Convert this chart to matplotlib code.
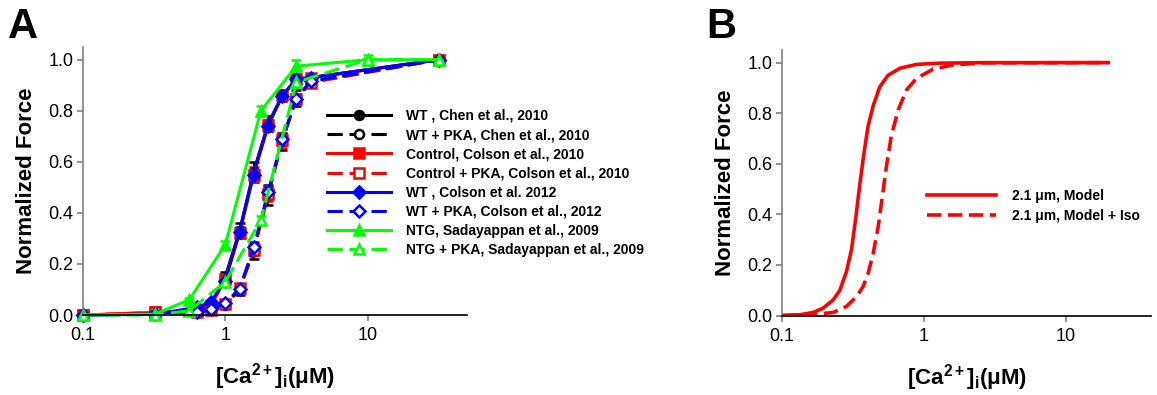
import matplotlib
matplotlib.use("Agg")
import matplotlib.pyplot as plt
from matplotlib.ticker import FixedLocator, FixedFormatter, NullLocator

plt.rcParams['font.family'] = ['Liberation Sans', 'DejaVu Sans']
plt.rcParams['mathtext.fontset'] = 'custom'
plt.rcParams['mathtext.rm'] = 'Liberation Sans'
plt.rcParams['mathtext.bf'] = 'Liberation Sans:bold'
plt.rcParams['mathtext.it'] = 'Liberation Sans:italic'

# ---------------- Panel A data ----------------
conc_colson = [0.1, 0.32, 0.63, 0.79, 1.0, 1.26, 1.58, 2.0, 2.51, 3.16, 3.98, 31.6]
wt_chen = [0.0, 0.005, 0.02, 0.04, 0.15, 0.33, 0.56, 0.75, 0.86, 0.92, 0.93, 1.0]
wt_chen_err = [0, 0, 0.01, 0.01, 0.02, 0.03, 0.04, 0.03, 0.02, 0.015, 0.01, 0]
wt_pka_chen = [0.0, 0.005, 0.01, 0.02, 0.04, 0.10, 0.25, 0.47, 0.68, 0.85, 0.915, 1.0]
wt_pka_chen_err = [0, 0, 0.005, 0.01, 0.01, 0.02, 0.03, 0.04, 0.035, 0.03, 0.01, 0]
ctrl_colson10 = [0.0, 0.01, 0.02, 0.035, 0.14, 0.32, 0.55, 0.745, 0.86, 0.925, 0.93, 1.0]
ctrl_colson10_err = [0, 0, 0.01, 0.01, 0.015, 0.02, 0.03, 0.02, 0.02, 0.01, 0.01, 0]
ctrl_pka_colson10 = [0.0, 0.01, 0.012, 0.02, 0.045, 0.105, 0.255, 0.475, 0.685, 0.845, 0.91, 1.0]
ctrl_pka_colson10_err = [0, 0, 0.005, 0.01, 0.01, 0.015, 0.02, 0.03, 0.03, 0.02, 0.01, 0]
wt_colson12 = [0.0, 0.003, 0.03, 0.05, 0.135, 0.325, 0.55, 0.742, 0.857, 0.925, 0.93, 1.0]
wt_colson12_err = [0, 0, 0.01, 0.01, 0.01, 0.02, 0.02, 0.02, 0.015, 0.01, 0.01, 0]
wt_pka_colson12 = [0.0, 0.003, 0.01, 0.024, 0.046, 0.10, 0.265, 0.48, 0.688, 0.847, 0.915, 1.0]
wt_pka_colson12_err = [0, 0, 0.005, 0.005, 0.01, 0.01, 0.02, 0.02, 0.02, 0.015, 0.01, 0]

conc_sada = [0.1, 0.32, 0.56, 1.0, 1.78, 3.16, 10.0, 31.6]
ntg = [0.0, 0.003, 0.06, 0.275, 0.80, 0.975, 1.0, 1.0]
ntg_err = [0, 0, 0.005, 0.015, 0.02, 0.025, 0.005, 0]
ntg_pka = [0.0, 0.0, 0.017, 0.13, 0.372, 0.912, 1.0, 1.0]
ntg_pka_err = [0, 0, 0.005, 0.01, 0.015, 0.02, 0.02, 0]

labels_a = ["WT , Chen et al., 2010", "WT + PKA, Chen et al., 2010",
            "Control, Colson et al., 2010", "Control + PKA, Colson et al., 2010",
            "WT , Colson et al. 2012", "WT + PKA, Colson et al., 2012",
            "NTG, Sadayappan et al., 2009", "NTG + PKA, Sadayappan et al., 2009"]

# ---------------- Panel B data ----------------
conc_model = [0.1, 0.134, 0.166, 0.195, 0.23, 0.256, 0.285, 0.309, 0.332, 0.354,
              0.378, 0.405, 0.44, 0.49, 0.56, 0.68, 0.89, 1.3, 2.6, 20.0]
force_model = [0.0, 0.003, 0.012, 0.029, 0.062, 0.10, 0.174, 0.26, 0.39, 0.52,
               0.64, 0.75, 0.83, 0.905, 0.95, 0.978, 0.993, 0.998, 1.0, 1.0]
conc_iso = [0.1, 0.175, 0.23, 0.285, 0.336, 0.374, 0.405, 0.44, 0.477, 0.51,
            0.545, 0.59, 0.66, 0.755, 0.89, 1.16, 1.61, 2.6, 20.0]
force_iso = [0.0, 0.005, 0.012, 0.036, 0.075, 0.115, 0.167, 0.246, 0.352, 0.47,
             0.59, 0.71, 0.813, 0.892, 0.938, 0.974, 0.991, 0.999, 1.0]
labels_b = ["2.1 \u03bcm, Model", "2.1 \u03bcm, Model + Iso"]

xticks = [0.1, 1, 10]
xticklabels = ["0.1", "1", "10"]
yticks = [0.0, 0.2, 0.4, 0.6, 0.8, 1.0]
yticklabels = ["0.0", "0.2", "0.4", "0.6", "0.8", "1.0"]

W, H = 1157, 395
fig = plt.figure(figsize=(W / 100, H / 100), dpi=100)
axA = fig.add_axes([83 / W, (H - 315) / H, (467 - 83) / W, (315 - 47) / H])
axB = fig.add_axes([782 / W, (H - 315.5) / H, (1151 - 782) / W, (315.5 - 50) / H])

xlabel = r'$\mathbf{[Ca^{2+}]_{i}(\mu M)}$'


def style(ax, xmax):
    ax.set_xscale('log')
    ax.set_xlim(0.1, xmax)
    ax.set_ylim(0, 1.05)
    ax.xaxis.set_major_locator(FixedLocator(xticks))
    ax.xaxis.set_major_formatter(FixedFormatter(xticklabels))
    ax.xaxis.set_minor_locator(NullLocator())
    ax.set_yticks(yticks)
    ax.set_yticklabels(yticklabels)
    for s in ['top', 'right']:
        ax.spines[s].set_visible(False)
    ax.spines['left'].set_color('#808080')
    ax.spines['left'].set_linewidth(1.2)
    ax.spines['bottom'].set_color('black')
    ax.spines['bottom'].set_linewidth(1.2)
    ax.tick_params(axis='y', colors='#808080', labelcolor='black', length=4,
                   width=1.2, labelsize=13, direction='out', pad=3)
    ax.tick_params(axis='x', colors='#808080', labelcolor='black', length=4,
                   width=1.2, labelsize=13, direction='out', pad=5)
    ax.set_ylabel('Normalized Force', fontsize=16, fontweight='bold', labelpad=8)
    ax.set_xlabel(xlabel, fontsize=16, labelpad=12)


series = [
    (conc_colson, wt_chen, wt_chen_err, 'black', 'o', True, '-'),
    (conc_colson, wt_pka_chen, wt_pka_chen_err, 'black', 'o', False, '--'),
    (conc_colson, ctrl_colson10, ctrl_colson10_err, '#ff0000', 's', True, '-'),
    (conc_colson, ctrl_pka_colson10, ctrl_pka_colson10_err, '#ff0000', 's', False, '--'),
    (conc_colson, wt_colson12, wt_colson12_err, '#0000ff', 'D', True, '-'),
    (conc_colson, wt_pka_colson12, wt_pka_colson12_err, '#0000ff', 'D', False, '--'),
    (conc_sada, ntg, ntg_err, '#00ff00', '^', True, '-'),
    (conc_sada, ntg_pka, ntg_pka_err, '#00ff00', '^', False, '--'),
]

handles = []
for (x, y, e, c, m, filled, ls), lab in zip(series, labels_a):
    ms = 6.5 if m != 'D' else 6
    eb = axA.errorbar(x, y, yerr=e, color=c, ecolor=c, elinewidth=1.5, capsize=3.5,
                      capthick=1.5, linestyle=ls, linewidth=2.2, marker=m, markersize=ms,
                      markerfacecolor=(c if filled else 'white'), markeredgecolor=c,
                      markeredgewidth=1.8, clip_on=False, label=lab)
    if ls == '--':
        eb[0].set_dashes([5, 2.2])
    handles.append(eb[0])

style(axA, 50)
legA = axA.legend(handles=handles, labels=labels_a, loc='upper left',
                  bbox_to_anchor=(327 / W, (H - 109) / H), bbox_transform=fig.transFigure,
                  frameon=False, prop={'weight': 'bold', 'size': 10},
                  handlelength=4.6, handletextpad=1.1, labelspacing=0.37,
                  borderpad=0, borderaxespad=0)

lB1, = axB.plot(conc_model, force_model, color='#ff0000', linewidth=2.6, linestyle='-')
lB2, = axB.plot(conc_iso, force_iso, color='#ff0000', linewidth=2.6, linestyle='--')
lB2.set_dashes([4, 1.8])
style(axB, 40)
axB.legend(handles=[lB1, lB2], labels=labels_b, loc='upper left',
           bbox_to_anchor=(927 / W, (H - 189) / H), bbox_transform=fig.transFigure,
           frameon=False, prop={'weight': 'bold', 'size': 10},
           handlelength=5.0, handletextpad=1.1, labelspacing=0.4,
           borderpad=0, borderaxespad=0)

fig.text(8 / W, (H - 38) / H, 'A', fontsize=30, fontweight='bold', ha='left', va='baseline')
fig.text(706 / W, (H - 38) / H, 'B', fontsize=30, fontweight='bold', ha='left', va='baseline')

fig.savefig('out.png', dpi=100)
